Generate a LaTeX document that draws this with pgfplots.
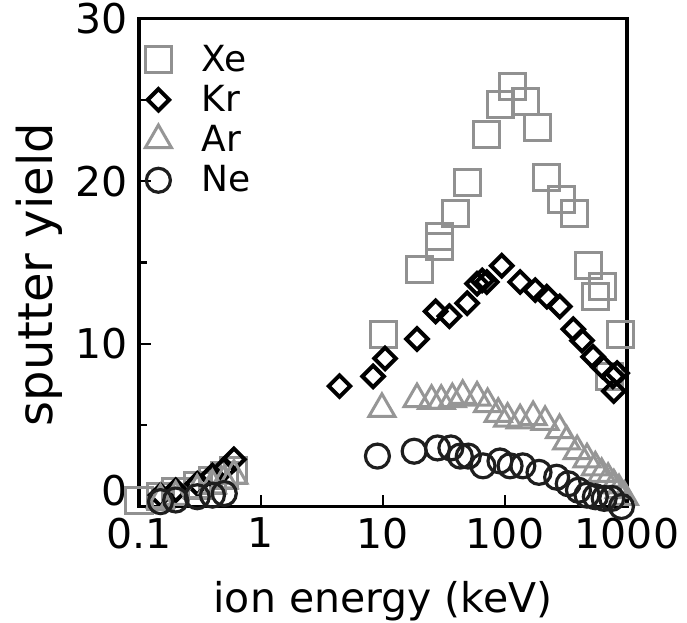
\documentclass[border=0pt]{standalone}
\usepackage{fontspec}
\setmainfont{DejaVu Sans}
\usepackage{pgfplots}
\pgfplotsset{compat=1.18}
\definecolor{xegray}{RGB}{145,145,145}
\definecolor{argray}{RGB}{150,150,150}
\definecolor{nedark}{RGB}{30,30,30}
\begin{document}
\begin{tikzpicture}
\begin{axis}[
  xmode=log, log basis x=10,
  scale only axis, width=244pt, height=244pt,
  xmin=0.1, xmax=1000, ymin=0, ymax=30,
  xtick={0.1,1,10,100,1000}, xticklabels={0.1,1,10,100,1000},
  ytick={0,10,20,30}, yticklabels={,10,20,30}, minor ytick={5,15,25},
  tick align=inside, xtick pos=bottom, ytick pos=left,
  axis line style={line width=1.6pt},
  major tick length=6pt, minor tick length=4pt,
  every tick/.style={line width=1.2pt, black},
  tick label style={font=\fontsize{20.5}{24}\selectfont, inner sep=1.5pt},
  xticklabel style={yshift=-4pt},
  yticklabel style={xshift=-4pt},
  /pgf/number format/assume math mode=true,
  xlabel={ion energy (keV)}, ylabel={sputter yield},
  xlabel style={font=\fontsize{20.5}{24}\selectfont, inner sep=0pt,
    at={([yshift=-47.5pt]axis description cs:0.5,0)}, anchor=center},
  ylabel style={font=\fontsize{24}{28}\selectfont, inner sep=0pt,
    at={([xshift=-50pt,yshift=-6pt]axis description cs:0,0.5)}, anchor=center},
  clip=false,
  legend style={draw=none, fill=none, at={(axis description cs:0,1)}, anchor=north west,
    xshift=3pt, yshift=-11pt, inner sep=0pt, column sep=13pt,
    font=\fontsize{18}{21}\selectfont, row sep=1.5pt},
  legend cell align=left,
]
\addplot[only marks, mark=square, mark size=6.5pt, xegray, line width=1.5pt] coordinates {
(0.1,0.4) (0.15,0.6) (0.2,0.9) (0.3,1.3) (0.4,1.6) (0.5,1.9) (0.6,2.2)
(10,10.6) (20,14.6) (29,16.0) (29,16.6) (39,18.0) (49,19.9) (71,22.9)
(91,24.7) (116,25.8) (146,24.9) (186,23.3) (219,20.2) (288,18.9) (372,18.0)
(480,14.8) (550,12.9) (630,13.5) (725,8.0) (880,10.6)
};
\addlegendentry{Xe}
\addplot[only marks, mark=square, mark options={rotate=45}, mark size=3.8pt, black, line width=2pt] coordinates {
(0.15,0.7) (0.2,1.0) (0.3,1.4) (0.4,1.9) (0.5,2.3) (0.6,2.9)
(4.4,7.4) (8.3,8.0) (10.4,9.1) (19,10.3) (27,12.0) (35,11.7) (49,12.5)
(59,13.7) (65,13.9) (71,13.8) (94,14.8) (133,13.8) (177,13.3) (220,12.9)
(281,12.3) (363,10.9) (428,10.2) (527,9.2) (630,8.6) (767,8.0) (830,8.2) (780,7.1)
};
\addlegendentry{Kr}
\addplot[only marks, mark=triangle, mark size=7.5pt, argray, line width=1.5pt] coordinates {
(0.15,0.4) (0.2,0.6) (0.3,1.0) (0.4,1.3) (0.5,1.6) (0.6,1.9)
(9.8,6.0) (19,6.6) (25,6.5) (30,6.5) (37,6.6) (45,6.8) (59,6.7) (72,6.3)
(88,5.7) (105,5.4) (133,5.3) (170,5.5) (213,5.2) (280,4.7) (320,4.0)
(390,3.4) (470,2.9) (550,2.4) (620,2.0) (700,1.7) (780,1.3) (860,1.0) (950,0.6)
};
\addlegendentry{Ar}
\addplot[only marks, mark=o, mark size=6pt, nedark, line width=1.6pt] coordinates {
(0.15,0.3) (0.2,0.4) (0.3,0.6) (0.4,0.7) (0.5,0.8)
(9,3.1) (18,3.4) (28,3.6) (36,3.6) (43,3.1) (50,3.1) (66,2.5) (91,2.8)
(110,2.5) (140,2.5) (190,2.1) (265,1.8) (330,1.4) (400,1.0) (470,0.7)
(550,0.6) (650,0.5) (750,0.5) (900,0.0)
};
\addlegendentry{Ne}
\node[anchor=east, inner sep=1.5pt, font=\fontsize{20.5}{24}\selectfont]
  at ([xshift=-4pt,yshift=8pt]axis description cs:0,0) {0};
\end{axis}
\path ([xshift=-69.5pt,yshift=-58pt]current axis.south west)
  rectangle ([xshift=30pt,yshift=8.5pt]current axis.north east);
\end{tikzpicture}
\end{document}
